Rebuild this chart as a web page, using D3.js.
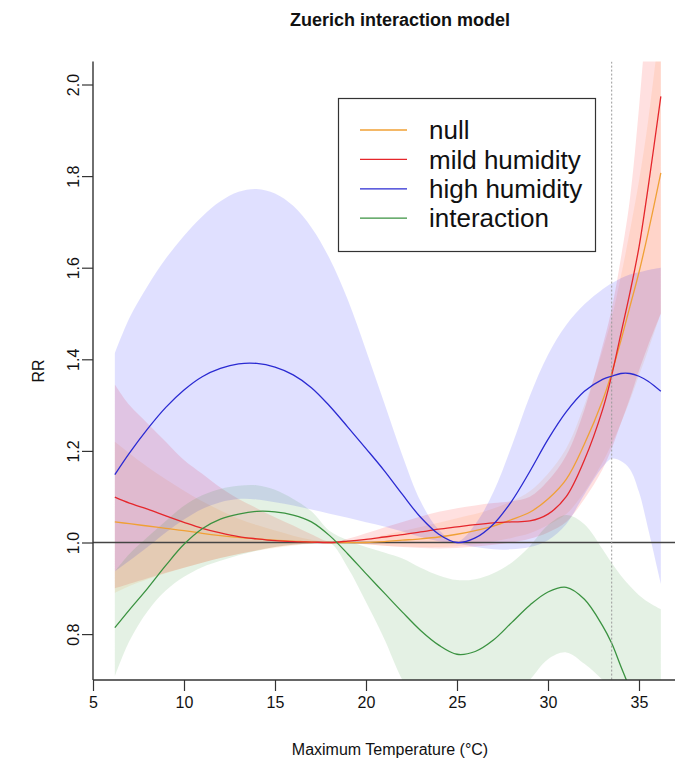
<!DOCTYPE html>
<html>
<head>
<meta charset="utf-8">
<script src="https://cdn.jsdelivr.net/npm/d3@7"></script>
<style>
  body { margin: 0; background: #fff; }
  text { font-family: "Liberation Sans", Arial, sans-serif; fill: #111; }
</style>
</head>
<body>
<script>
// temperature grid (°C) shared by all curves
const temp = [6.2, 7, 8, 9, 10, 11, 12, 13, 14, 15, 16, 17, 18, 19, 20, 21, 22, 23, 24, 25,
              26, 27, 28, 29, 30, 31, 32, 33, 33.5, 34, 34.5, 35, 35.5, 36.2];

// null model
const nullRR = [1.045,1.041,1.036,1.031,1.026,1.020,1.015,1.011,1.008,1.005,1.003,1.001,1.000,1.000,1.000,1.002,1.005,1.008,1.012,1.018,
                1.026,1.036,1.050,1.066,1.095,1.138,1.215,1.310,1.370,1.440,1.515,1.590,1.676,1.807];
const nullLo = [0.890,0.905,0.920,0.933,0.945,0.956,0.966,0.975,0.982,0.988,0.993,0.997,1.000,0.999,0.996,0.993,0.991,0.990,0.990,0.992,
                0.996,1.002,1.010,1.020,1.038,1.062,1.110,1.175,1.215,1.260,1.310,1.365,1.420,1.500];
const nullHi = [1.220,1.195,1.165,1.138,1.113,1.090,1.070,1.052,1.038,1.026,1.015,1.006,1.001,1.003,1.008,1.016,1.025,1.034,1.043,1.053,
                1.062,1.074,1.090,1.112,1.150,1.205,1.300,1.420,1.490,1.580,1.680,1.790,1.920,2.150];

// mild humidity
const mildRR = [1.099,1.086,1.073,1.058,1.044,1.031,1.021,1.013,1.008,1.004,1.002,1.001,1.000,1.003,1.007,1.012,1.017,1.023,1.029,1.034,
                1.039,1.043,1.045,1.047,1.062,1.100,1.180,1.290,1.365,1.455,1.545,1.645,1.775,1.974];
const mildLo = [0.900,0.910,0.922,0.934,0.945,0.956,0.966,0.975,0.983,0.990,0.995,0.998,1.000,0.999,0.996,0.993,0.990,0.988,0.987,0.988,
                0.991,0.995,1.000,1.008,1.022,1.045,1.095,1.160,1.205,1.260,1.315,1.375,1.430,1.500];
const mildHi = [1.345,1.300,1.260,1.220,1.180,1.150,1.120,1.095,1.075,1.055,1.037,1.018,1.002,1.008,1.020,1.033,1.045,1.057,1.067,1.075,
                1.081,1.086,1.090,1.100,1.135,1.190,1.290,1.430,1.510,1.620,1.750,1.950,2.200,2.600];

// high humidity
const highRR = [1.148,1.195,1.248,1.295,1.333,1.362,1.380,1.390,1.391,1.383,1.366,1.338,1.298,1.252,1.205,1.157,1.105,1.055,1.018,1.000,
                1.010,1.040,1.090,1.155,1.225,1.285,1.330,1.356,1.363,1.369,1.369,1.363,1.352,1.330];
const highLo = [0.937,0.960,0.990,1.022,1.050,1.073,1.088,1.095,1.094,1.088,1.081,1.072,1.063,1.054,1.044,1.035,1.024,1.012,1.003,0.998,
                0.990,0.985,0.985,0.990,1.005,1.040,1.105,1.165,1.183,1.178,1.160,1.110,1.030,0.910];
const highHi = [1.413,1.490,1.560,1.620,1.670,1.712,1.745,1.766,1.772,1.762,1.735,1.688,1.620,1.530,1.420,1.305,1.190,1.090,1.028,1.002,
                1.040,1.110,1.210,1.320,1.410,1.475,1.520,1.553,1.566,1.577,1.585,1.590,1.595,1.600];

// interaction
const interRR = [0.814,0.853,0.900,0.950,0.996,1.030,1.051,1.062,1.068,1.067,1.060,1.045,1.015,0.975,0.932,0.890,0.848,0.808,0.776,0.756,
                 0.762,0.787,0.825,0.863,0.892,0.902,0.876,0.818,0.780,0.730,0.680,0.625,0.570,0.500];
const interLo = [0.708,0.785,0.850,0.895,0.925,0.946,0.960,0.972,0.982,0.990,0.995,0.998,1.000,0.945,0.870,0.790,0.700,0.640,0.600,0.580,
                 0.590,0.620,0.660,0.700,0.745,0.760,0.735,0.700,0.680,0.640,0.600,0.560,0.520,0.470];
const interHi = [0.937,0.975,1.012,1.047,1.080,1.103,1.117,1.124,1.125,1.115,1.095,1.068,1.025,1.005,0.990,0.978,0.965,0.945,0.928,0.918,
                 0.920,0.933,0.956,0.992,1.038,1.060,1.040,0.985,0.955,0.928,0.905,0.885,0.870,0.854];

const xTicks = [5, 10, 15, 20, 25, 30, 35];
const yTicks = [0.8, 1.0, 1.2, 1.4, 1.6, 1.8, 2.0];
const cutoff = 33.5;

const series = [
  {name: "null",          rr: nullRR,  lo: nullLo,  hi: nullHi,  line: "#f0a035", band: "rgba(255,150,40,0.12)"},
  {name: "mild humidity", rr: mildRR,  lo: mildLo,  hi: mildHi,  line: "#e5262b", band: "rgba(255,0,0,0.12)"},
  {name: "high humidity", rr: highRR,  lo: highLo,  hi: highHi,  line: "#2a2ad2", band: "rgba(0,0,255,0.12)"},
  {name: "interaction",   rr: interRR, lo: interLo, hi: interHi, line: "#3a9240", band: "rgba(34,139,34,0.12)"}
];

const w = 675, h = 766;
const pLeft = 93, pRight = 683, pTop = 61.6, pBottom = 680;

const x = d3.scaleLinear().domain([5, 35]).range([93, 639]);
const y = d3.scaleLinear().domain([1, 2]).range([542.5, 84.5]);

const svg = d3.select("body").append("svg")
    .attr("width", w)
    .attr("height", h);

svg.append("clipPath").attr("id", "plot")
  .append("rect")
    .attr("x", pLeft).attr("y", pTop)
    .attr("width", pRight - pLeft).attr("height", pBottom - pTop);

const g = svg.append("g").attr("clip-path", "url(#plot)");

const curve = d3.curveCatmullRom.alpha(0.5);
const area = d3.area()
    .x(d => x(d.t)).y0(d => y(d.lo)).y1(d => y(d.hi))
    .curve(curve);
const line = d3.line()
    .x(d => x(d.t)).y(d => y(d.v))
    .curve(curve);

series.forEach(s => {
  const pts = temp.map((t, i) => ({t: t, lo: s.lo[i], hi: s.hi[i]}));
  g.append("path").attr("d", area(pts)).attr("fill", s.band);
});

// reference line at RR = 1
g.append("line")
    .attr("x1", pLeft).attr("x2", pRight)
    .attr("y1", y(1)).attr("y2", y(1))
    .attr("stroke", "#444").attr("stroke-width", 1.4);

series.forEach(s => {
  const pts = temp.map((t, i) => ({t: t, v: s.rr[i]}));
  g.append("path").attr("d", line(pts))
    .attr("fill", "none").attr("stroke", s.line).attr("stroke-width", 1.3);
});

g.append("line")
    .attr("x1", x(cutoff)).attr("x2", x(cutoff))
    .attr("y1", pTop).attr("y2", pBottom)
    .attr("stroke", "#999").attr("stroke-width", 1)
    .attr("stroke-dasharray", "2,2");

// axes
const xAxis = svg.append("g")
    .attr("transform", `translate(0,${pBottom})`)
    .call(d3.axisBottom(x).tickValues(xTicks).tickSize(11).tickPadding(6).tickSizeOuter(0));
const yAxis = svg.append("g")
    .attr("transform", `translate(${pLeft},0)`)
    .call(d3.axisLeft(y).tickValues(yTicks).tickSize(11).tickFormat(d3.format(".1f")).tickSizeOuter(0));

[xAxis, yAxis].forEach(a => {
  a.select(".domain").remove();
  a.selectAll("line").attr("stroke", "#333").attr("stroke-width", 1.2);
  a.selectAll("text").style("font-size", "16px").attr("fill", "#222");
});
xAxis.selectAll("text").attr("dy", "0.71em");
yAxis.selectAll(".tick text")
    .attr("x", null).attr("dy", null)
    .attr("text-anchor", "middle")
    .attr("transform", "translate(-14,0) rotate(-90)");

svg.append("line").attr("x1", pLeft).attr("x2", w).attr("y1", pBottom).attr("y2", pBottom)
    .attr("stroke", "#333").attr("stroke-width", 1.4);
svg.append("line").attr("x1", pLeft).attr("x2", pLeft).attr("y1", pTop).attr("y2", pBottom)
    .attr("stroke", "#333").attr("stroke-width", 1.4);

// titles
svg.append("text")
    .attr("x", 400).attr("y", 26)
    .attr("text-anchor", "middle")
    .style("font-size", "18px").style("font-weight", "bold")
    .text("Zuerich interaction model");

svg.append("text")
    .attr("x", 390).attr("y", 755)
    .attr("text-anchor", "middle")
    .style("font-size", "16px")
    .text("Maximum Temperature (°C)");

svg.append("text")
    .attr("transform", "translate(44,371) rotate(-90)")
    .attr("text-anchor", "middle")
    .style("font-size", "16px")
    .text("RR");

// legend
const lg = svg.append("g");
lg.append("rect")
    .attr("x", 338.5).attr("y", 98.5).attr("width", 257).attr("height", 153)
    .attr("fill", "#fff").attr("stroke", "#333").attr("stroke-width", 1.2);
series.forEach((s, i) => {
  const ly = 130 + i * 29.4;
  lg.append("line")
      .attr("x1", 360).attr("x2", 407).attr("y1", ly).attr("y2", ly)
      .attr("stroke", s.line).attr("stroke-width", 1.3);
  lg.append("text")
      .attr("x", 429).attr("y", ly)
      .attr("dy", "0.35em")
      .style("font-size", "26px")
      .text(s.name);
});
</script>
</body>
</html>
